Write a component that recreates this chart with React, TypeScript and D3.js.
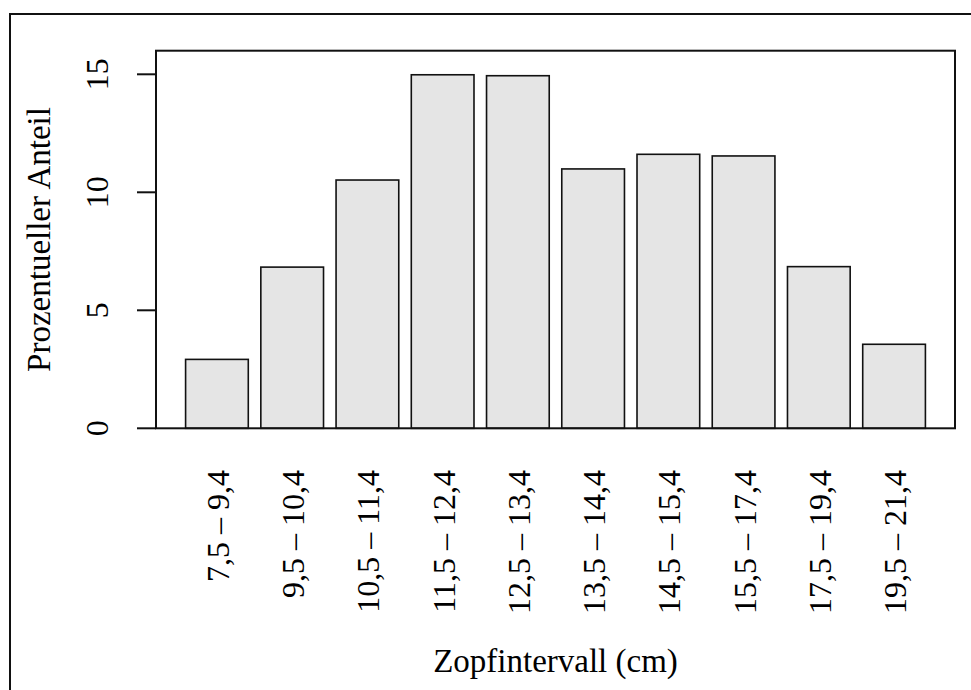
import React from "react";
import * as d3 from "d3";

const categories = [
  "7,5 – 9,4",
  "9,5 – 10,4",
  "10,5 – 11,4",
  "11,5 – 12,4",
  "12,5 – 13,4",
  "13,5 – 14,4",
  "14,5 – 15,4",
  "15,5 – 17,4",
  "17,5 – 19,4",
  "19,5 – 21,4",
];
const values = [2.92, 6.83, 10.52, 14.98, 14.94, 10.99, 11.61, 11.54, 6.85, 3.56];
const yTicks = [0, 5, 10, 15];
const xTitle = "Zopfintervall (cm)";
const yTitle = "Prozentueller Anteil";

const W = 971;
const H = 690;
const FONT = "'Liberation Serif', 'Times New Roman', serif";

export default function App() {
  const left = 156, right = 955, top = 50.7, bottom = 428.3;
  const n = values.length;
  const space = 0.2, bw = 1;
  const lo = space, hi = n * (bw + space);
  const pad = (hi - lo) * 0.04;
  const x = d3.scaleLinear().domain([lo - pad, hi + pad]).range([left, right]);
  const y = d3.scaleLinear().domain([0, 16]).range([bottom, top]);

  return (
    <svg
      width={W}
      height={H}
      style={{ position: "absolute", left: 0, top: 0, background: "#fff" }}
      fontFamily={FONT}
    >
      <rect x={0} y={0} width={W} height={H} fill="#fff" />
      {/* outer frame */}
      <rect x={10} y={14} width={W + 20} height={H + 20} fill="none" stroke="#111" strokeWidth={2} />
      {/* bars */}
      {values.map((v, i) => {
        const x0 = x(space + i * (bw + space));
        const x1 = x(space + i * (bw + space) + bw);
        return (
          <rect
            key={i}
            x={x0}
            y={y(v)}
            width={x1 - x0}
            height={y(0) - y(v)}
            fill="#e5e5e5"
            stroke="#111"
            strokeWidth={1.6}
          />
        );
      })}
      {/* plot box */}
      <rect x={left} y={top} width={right - left} height={bottom - top} fill="none" stroke="#111" strokeWidth={2} />
      {/* y axis ticks */}
      {yTicks.map((t) => (
        <g key={t}>
          <line x1={137} x2={left} y1={y(t)} y2={y(t)} stroke="#111" strokeWidth={2} />
          <text
            transform={`translate(108,${y(t)}) rotate(-90)`}
            textAnchor="middle"
            fontSize={32}
            fill="#000"
          >
            {t}
          </text>
        </g>
      ))}
      {/* x labels */}
      {categories.map((c, i) => {
        const xc = x(space + i * (bw + space) + bw / 2);
        return (
          <text
            key={c}
            transform={`translate(${xc + 12},470) rotate(-90)`}
            textAnchor="end"
            fontSize={32}
            fill="#000"
          >
            {c}
          </text>
        );
      })}
      <text x={(left + right) / 2} y={672} textAnchor="middle" fontSize={33} fill="#000">
        {xTitle}
      </text>
      <text
        transform={`translate(50,${(top + bottom) / 2}) rotate(-90)`}
        textAnchor="middle"
        fontSize={33}
        fill="#000"
      >
        {yTitle}
      </text>
    </svg>
  );
}
